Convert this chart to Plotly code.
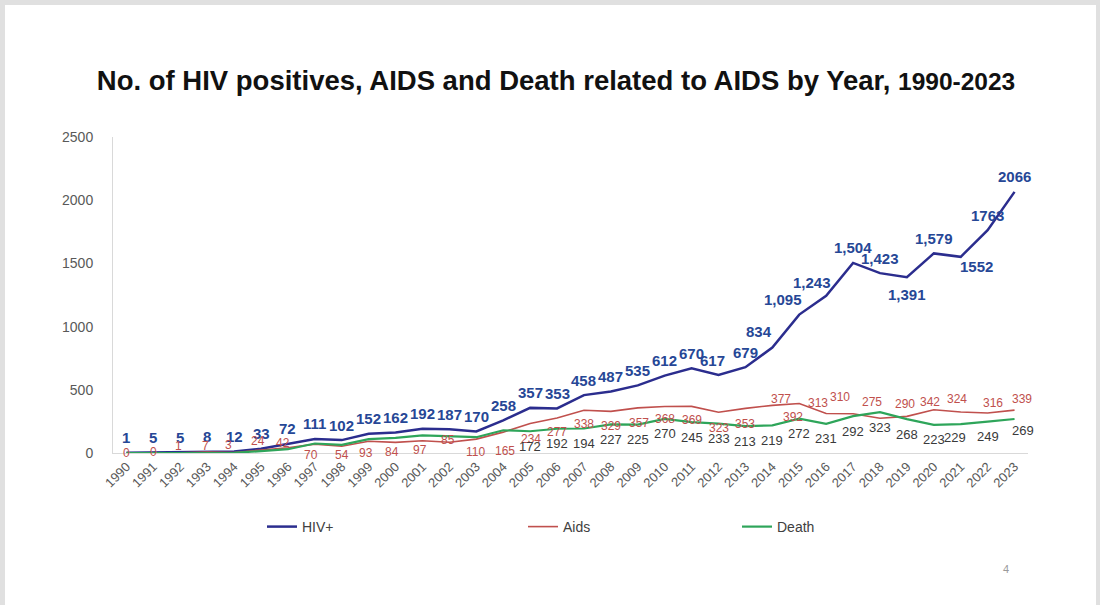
import plotly.graph_objects as go

years = list(range(1990, 2024))
hiv = [1, 5, 5, 8, 12, 33, 72, 111, 102, 152, 162, 192, 187, 170, 258, 357, 353, 458, 487,
       535, 612, 670, 617, 679, 834, 1095, 1243, 1504, 1423, 1391, 1579, 1552, 1763, 2066]
hiv_labels = ["1", "5", "5", "8", "12", "33", "72", "111", "102", "152", "162", "192", "187",
              "170", "258", "357", "353", "458", "487", "535", "612", "670", "617", "679", "834",
              "1,095", "1,243", "1,504", "1,423", "1,391", "1,579", "1552", "1763", "2066"]
aids = [0, 0, 1, 7, 3, 24, 42, 70, 54, 93, 84, 97, 85, 110, 165, 234, 277, 338, 329, 357,
        368, 369, 323, 353, 377, 392, 313, 310, 275, 290, 342, 324, 316, 339]
death = [0, 0, 0, 1, 2, 15, 30, 75, 65, 110, 120, 140, 135, 125, 180, 172, 192, 194, 227,
         225, 270, 245, 233, 213, 219, 272, 231, 292, 323, 268, 223, 229, 249, 269]
death_labelled_from = 2005

# label offsets in pixels (dx, dy)
hiv_off = {2012: (-6, 15), 2014: (-13, 16), 2015: (-16, 15), 2016: (-14, 13),
           2019: (0, -17), 2021: (16, -10)}
hiv_default = (0, 15)
aids_off = [(0, 0), (0, 1), (-2, 7), (-2, 6), (-6, 8), (-3, 9), (-5, 5), (-4, -11), (0, -9),
            (-3, -12), (-4, -10), (-2, -9), (-1, 2), (-1, -13), (2, -19), (1, -16), (0, -14),
            (0, -14), (0, -15), (1, -15), (0, -13), (0, -14), (0, -16), (0, -16), (9, 6),
            (-6, -14), (-8, 10), (-13, 17), (-8, 16), (-2, 12), (-4, 8), (-4, 13), (5, 10),
            (7, 11)]
death_off = {2021: (-6, -13), 2023: (8, -11)}
death_default = (0, -15)

HIV_LINE = "#2B2D8E"
HIV_TXT = "#264796"
AIDS_C = "#C0504D"
DEATH_C = "#2EA55A"
DEATH_TXT = "#3A3A3A"

fig = go.Figure()
fig.add_trace(go.Scatter(x=years, y=hiv, mode="lines", name="HIV+", showlegend=True,
                         line=dict(color=HIV_LINE, width=2.5), legend="legend"))
fig.add_trace(go.Scatter(x=years, y=aids, mode="lines", name="Aids", showlegend=True,
                         line=dict(color=AIDS_C, width=1.6), legend="legend2"))
fig.add_trace(go.Scatter(x=years, y=death, mode="lines", name="Death", showlegend=True,
                         line=dict(color=DEATH_C, width=2.2), legend="legend3"))

ann = []
for yr, v, t in zip(years, hiv, hiv_labels):
    dx, dy = hiv_off.get(yr, hiv_default)
    ann.append(dict(x=yr, y=v, text="<b>%s</b>" % t, showarrow=False, xshift=dx, yshift=dy,
                    font=dict(family="Liberation Sans, Arial", size=15, color=HIV_TXT)))
for yr, v, (dx, dy) in zip(years, aids, aids_off):
    ann.append(dict(x=yr, y=v, text=str(v), showarrow=False, xshift=dx, yshift=dy,
                    font=dict(family="Liberation Sans, Arial", size=12, color=AIDS_C)))
for yr, v in zip(years, death):
    if yr < death_labelled_from:
        continue
    dx, dy = death_off.get(yr, death_default)
    ann.append(dict(x=yr, y=v, text=str(v), showarrow=False, xshift=dx, yshift=dy,
                    font=dict(family="Liberation Sans, Arial", size=13, color=DEATH_TXT)))

L, R, T, B = 113, 72, 137, 152
W, H = 1100 - L - R, 605 - T - B


def px(xp):
    return (xp - L) / W


def py(yp):
    return (605 - B - yp) / H


ann.append(dict(xref="paper", yref="paper", x=px(1011), y=py(577), text="4", showarrow=False,
                font=dict(family="Liberation Sans, Arial", size=11, color="#9a9a9a")))

band = "#e0e0e0"
shapes = [
    dict(type="rect", xref="paper", yref="paper", x0=px(0), x1=px(5), y0=py(605), y1=py(0),
         fillcolor=band, line=dict(width=0), layer="below"),
    dict(type="rect", xref="paper", yref="paper", x0=px(0), x1=px(1100), y0=py(5), y1=py(0),
         fillcolor=band, line=dict(width=0), layer="below"),
    dict(type="rect", xref="paper", yref="paper", x0=px(1096), x1=px(1100), y0=py(605), y1=py(0),
         fillcolor=band, line=dict(width=0), layer="below"),
]

leg_font = dict(family="Liberation Sans, Arial", size=14, color="#404040")
leg_common = dict(orientation="h", yanchor="middle", y=py(527), xanchor="left",
                  font=leg_font, bgcolor="rgba(0,0,0,0)")

fig.update_layout(
    width=1100, height=605,
    showlegend=True,
    margin=dict(l=L, r=R, t=T, b=B),
    paper_bgcolor="white", plot_bgcolor="white",
    title=dict(
        text="<b>No. of HIV positives, AIDS and Death related to AIDS by Year, "
             "<span style='font-size:24.5px'>1990-2023</span></b>",
        x=556 / 1100, xanchor="center", y=1 - 80 / 605, yanchor="middle",
        font=dict(family="Liberation Sans, Arial", size=27.5, color="#111111")),
    xaxis=dict(range=[1989.5, 2023.5], tickmode="array", tickvals=years,
               ticktext=[str(y) for y in years], tickangle=-45,
               tickfont=dict(family="Liberation Sans, Arial", size=13, color="#595959"),
               showgrid=False, zeroline=False, showline=True, linecolor="#d9d9d9",
               linewidth=1, ticks=""),
    yaxis=dict(range=[0, 2500], tickvals=[0, 500, 1000, 1500, 2000, 2500],
               tickfont=dict(family="Liberation Sans, Arial", size=14, color="#595959"),
               showgrid=False, zeroline=False, showline=True, linecolor="#d9d9d9",
               linewidth=1, ticks="", ticklabelstandoff=16),
    legend=dict(x=px(262), **leg_common),
    legend2=dict(x=px(523), **leg_common),
    legend3=dict(x=px(737), **leg_common),
    annotations=ann,
    shapes=shapes,
)

fig.write_html("out.html")
